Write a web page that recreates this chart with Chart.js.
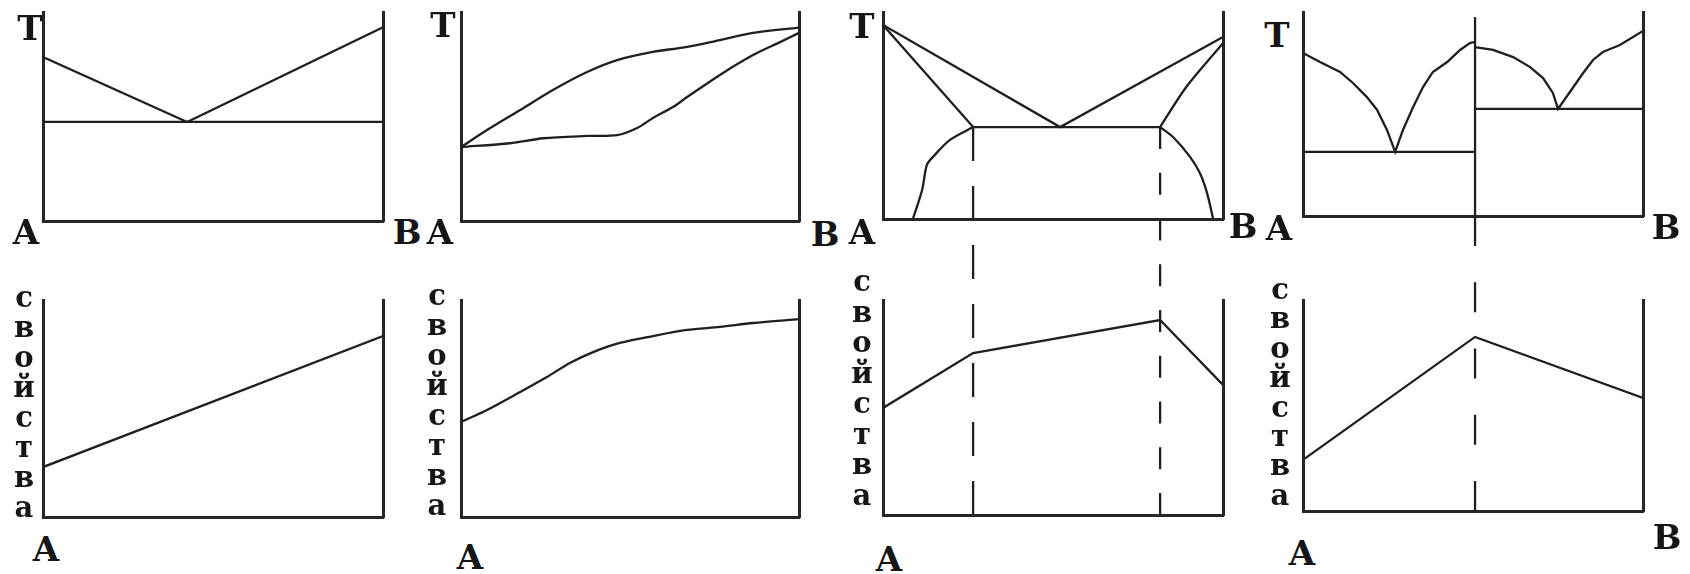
<!DOCTYPE html>
<html>
<head>
<meta charset="utf-8">
<script src="https://cdn.jsdelivr.net/npm/chart.js@4.4.1/dist/chart.umd.min.js"></script>
<style>
  body { margin: 0; width: 1690px; height: 574px; overflow: hidden; position: relative; background: #fff;
         font-family: "DejaVu Serif", serif; font-weight: bold; color: #161616; }
  .box { position: absolute; }
  .lbl { position: absolute; font-size: 34px; line-height: 34px; transform: translate(-50%, -50%); }
  .vert { position: absolute; width: 40px; margin-left: -20px; font-size: 29px; line-height: 30px; text-align: center; }
</style>
</head>
<body>
<script>
// composition runs 0..100 (% B), temperature / property in relative units 0..100
var compLabels = ['A', 'B'];
var tempLabel = 'T';
var propLabel = 'свойства';

// 1: eutectic, no solid solubility
var p1Liquidus = [[0, 78.5], [42.4, 47.4], [100, 92.7]];
var p1Eutectic = [[0, 47.4], [100, 47.4]];

// 2: unlimited solid solubility
var p2Liquidus = [[0, 35.4], [7.7, 43.5], [17.5, 53.1], [27.2, 62.7], [37.3, 71.3], [46.2, 77.0],
                  [56.8, 80.9], [66.9, 83.3], [76.6, 86.6], [86.4, 90.0], [100, 92.5]];
var p2Solidus = [[0, 35.4], [14.5, 37.2], [24.3, 39.6], [37.3, 40.7], [46.2, 41.1], [52.1, 44.5],
                 [56.8, 49.3], [62.7, 54.5], [66.9, 59.3], [76.6, 69.9], [86.4, 79.4], [94.4, 85.6], [100, 90.0]];

// 3: limited solid solubility
var c3Alpha = 26.5, c3Beta = 81.5;
var p3Liquidus = [[0, 93.7], [52.1, 44.4], [100, 87.9]];
var p3SolidusA = [[0, 93.7], [26.5, 44.4]];
var p3SolidusB = [[100, 84.9], [89.3, 64.0], [81.5, 44.4]];
var p3Eutectic = [[26.5, 44.4], [81.5, 44.4]];
var p3SolvusA = [[26.5, 44.4], [19.7, 38.2], [14.7, 30.0], [12.9, 26.1], [11.5, 14.0], [8.8, 0]];
var p3SolvusB = [[81.5, 44.4], [85.3, 39.6], [90.3, 30.0], [93.2, 22.2], [95.3, 12.6], [97.1, 0]];

// 4: chemical compound
var c4Compound = 50.6;
var p4LiquidusA = [[0, 79.9], [5.0, 75.5], [10.9, 70.6], [14.7, 65.2], [18.8, 58.3], [21.8, 52.0], [24.7, 42.2],
                   [27.1, 31.4], [29.4, 42.2], [32.4, 53.4], [35.3, 63.2], [38.2, 70.6], [42.4, 75.5],
                   [46.2, 81.4], [49.1, 84.8], [50.6, 85.3]];
var p4LiquidusB = [[50.6, 82.8], [55.9, 81.4], [61.8, 77.9], [66.8, 73.0], [70.6, 67.6], [73.5, 60.3],
                   [75.0, 52.5], [78.5, 60.8], [82.4, 70.1], [85.3, 76.5], [88.2, 80.4], [93.2, 83.8], [100, 90.7]];
var p4EutecticA = [[0, 31.4], [50.6, 31.4]];
var p4EutecticB = [[50.6, 52.5], [100, 52.5]];
var p4Compound = [[50.6, 0], [50.6, 97.5]];

// property curves
var p5Prop = [[0, 23.0], [100, 83.4]];
var p6Prop = [[0, 43.8], [7.7, 49.3], [17.5, 57.6], [25.4, 64.5], [32.2, 71.0], [39.1, 76.0], [47.0, 80.2],
              [56.8, 83.4], [66.9, 86.2], [76.6, 87.6], [86.4, 89.4], [100, 91.2]];
var p7Prop = [[0, 49.8], [26.5, 75.3], [81.5, 90.7], [100, 60.5]];
var p8Prop = [[0, 24.2], [50.6, 82.5], [100, 53.6]];

var PAD = 8;
var INK = '#1f1f1f';
var AXIS = '#262626';

function pts(a) {
  return a.map(function (p) { return { x: p[0], y: p[1] }; });
}

function line(a, dash, tension) {
  return {
    data: pts(a), showLine: true, borderColor: INK, borderWidth: 2.3,
    pointRadius: 0, fill: false, tension: tension || 0, borderDash: dash || []
  };
}

function scale(show, max, pos) {
  var s = {
    display: show, min: 0, max: max,
    grid: { display: false, drawTicks: false },
    ticks: { display: false },
    border: { display: true, width: 3, color: AXIS }
  };
  if (pos) s.position = pos;
  return s;
}

function panel(box, datasets, framed) {
  var d = document.createElement('div');
  d.className = 'box';
  d.style.left = (box[0] - PAD) + 'px';
  d.style.top = (box[1] - PAD) + 'px';
  d.style.width = (box[2] - box[0] + 2 * PAD) + 'px';
  d.style.height = (box[3] - box[1] + 2 * PAD) + 'px';
  var c = document.createElement('canvas');
  d.appendChild(c);
  document.body.appendChild(d);
  var scales = framed
    ? { x: scale(true, 100), y: scale(true, 100), yR: scale(true, 100, 'right') }
    : { x: scale(false, 100), y: scale(false, 1) };
  new Chart(c, {
    type: 'scatter',
    data: { datasets: datasets },
    options: {
      responsive: true, maintainAspectRatio: false, animation: false, events: [],
      layout: { padding: PAD },
      plugins: { legend: { display: false }, tooltip: { enabled: false } },
      scales: scales
    }
  });
}

// top row: phase diagrams
panel([43, 12, 383, 221], [line(p1Liquidus), line(p1Eutectic)], true);
panel([461, 12, 799, 221], [line(p2Liquidus, null, 0.3), line(p2Solidus, null, 0.3)], true);
panel([883, 12, 1223, 219], [line(p3Liquidus), line(p3SolidusA), line(p3SolidusB, null, 0.3), line(p3Eutectic),
                             line(p3SolvusA, null, 0.3), line(p3SolvusB, null, 0.3)], true);
panel([1303, 12, 1643, 216], [line(p4LiquidusA), line(p4LiquidusB), line(p4EutecticA), line(p4EutecticB),
                              line(p4Compound)], true);

// bottom row: property vs composition
panel([43, 300, 383, 517], [line(p5Prop)], true);
panel([461, 300, 799, 517], [line(p6Prop, null, 0.3)], true);
panel([883, 300, 1223, 515], [line(p7Prop)], true);
panel([1303, 300, 1643, 511], [line(p8Prop)], true);

// dashed guides joining the diagrams to the property curves
panel([883, 127, 1223, 515], [line([[c3Alpha, 1], [c3Alpha, 0]], [34, 25]),
                              line([[c3Beta, 1], [c3Beta, 0]], [22, 23.75])], false);
panel([1303, 216, 1643, 511], [line([[c4Compound, 1], [c4Compound, 0]], [30, 36.25])], false);

// labels
function label(txt, x, y) {
  var d = document.createElement('div');
  d.className = 'lbl';
  d.textContent = txt;
  d.style.left = x + 'px';
  d.style.top = y + 'px';
  document.body.appendChild(d);
}
function vertical(txt, x, y, step) {
  var d = document.createElement('div');
  d.className = 'vert';
  d.innerHTML = txt.split('').join('<br>');
  d.style.left = x + 'px';
  d.style.top = y + 'px';
  d.style.lineHeight = step + 'px';
  document.body.appendChild(d);
}

label(tempLabel, 30, 28);
label(tempLabel, 443, 25);
label(tempLabel, 862, 26);
label(tempLabel, 1277, 35);

label(compLabels[0], 26, 232);   label(compLabels[1], 407, 232);
label(compLabels[0], 440, 232);  label(compLabels[1], 825, 234);
label(compLabels[0], 862, 232);  label(compLabels[1], 1243, 226);
label(compLabels[0], 1279, 228); label(compLabels[1], 1666, 227);

label(compLabels[0], 46, 549);
label(compLabels[0], 470, 557);
label(compLabels[0], 889, 559);
label(compLabels[0], 1302, 553);
label(compLabels[1], 1667, 537);

vertical(propLabel, 24, 282, 30);
vertical(propLabel, 437, 280, 30);
vertical(propLabel, 862, 266, 30.5);
vertical(propLabel, 1280, 275, 29.4);
</script>
</body>
</html>
